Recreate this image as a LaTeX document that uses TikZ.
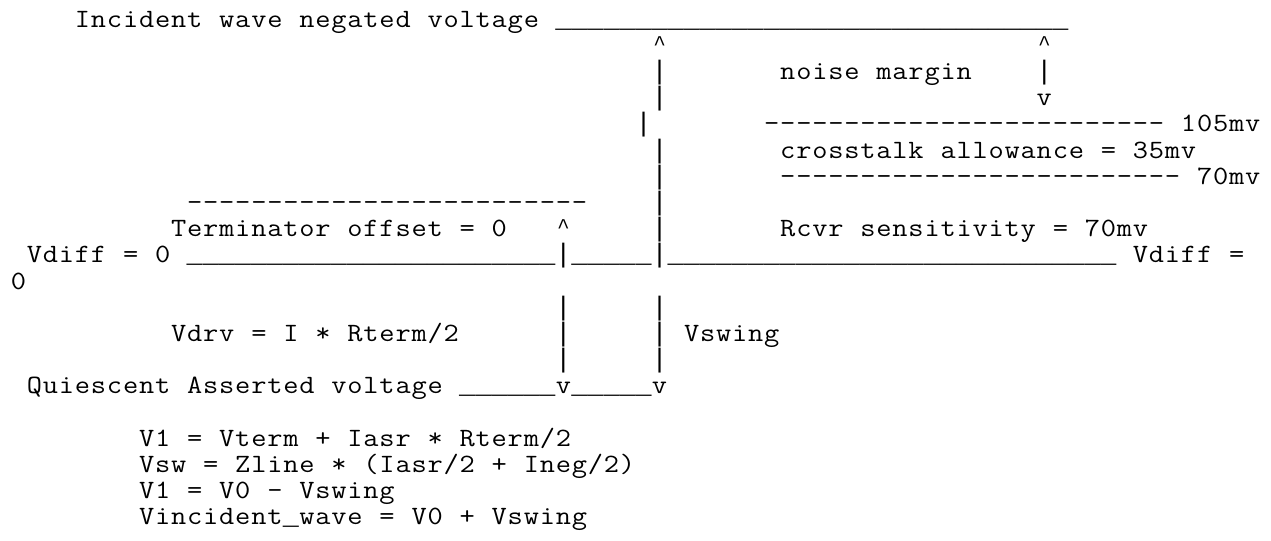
\documentclass[tikz,border=0pt]{standalone}
\usepackage{fontspec}
\usepackage{graphicx}
\usetikzlibrary{positioning}
\newfontfamily\glyphfont{Liberation Mono}

\newlength{\charw}
\setlength{\charw}{8.015pt}
\ExplSyntaxOn
\cs_new:Npn \repchar #1#2 {\prg_replicate:nn{#1}{#2}}
\str_new:N \l_mono_line_str
\cs_new_protected:Npn \monoline #1
  {
    \str_set:Nx \l_mono_line_str {#1}
    \str_map_inline:Nn \l_mono_line_str
      {
        \str_case:nnF {##1}
          {
            {_} { \makebox[\charw][c]{\glyphfont\fontsize{13.36pt}{13pt}\selectfont ##1} }
            {|} { \makebox[\charw][c]{\glyphfont\fontsize{13.36pt}{13pt}\selectfont ##1} }
            {^} { \makebox[\charw][c]{\raisebox{1.6pt}{\glyphfont\fontsize{10.5pt}{13pt}\selectfont ##1}} }
          }
          { \makebox[\charw][c]{\scalebox{1.12}[1]{##1}} }
      }
  }
\ExplSyntaxOff

\begin{document}
\begin{tikzpicture}[x=8.015pt,y=-13.1pt,
    ascii/.style={font=\ttfamily\fontsize{13.2pt}{13pt}\selectfont, inner sep=0pt, anchor=base west}]
  \useasboundingbox (0,0) rectangle (79.289,20.611);
  \begin{scope}[shift={(0.624,1.0305)}]
  % negated level and noise margin
  \node[ascii] (negline) at (4,0) {\monoline{Incident wave negated voltage \repchar{32}{_}}};
  \node[ascii] (swtop) at (40,1) {\monoline{^}};
  \node[ascii] (nmtop) at (64,1) {\monoline{^}};
  \node[ascii] (nmtxt) at (48,2) {\monoline{noise margin}};
  \node[ascii] (nmbar) at (64,2) {\monoline{|}};
  \node[ascii] (nmbot) at (64,3) {\monoline{v}};
  \foreach \r in {2,3,5,6,7,8}
    \node[ascii] (swbar\r) at (40,\r) {\monoline{|}};
  \node[ascii] (swbar4) at (39,4) {\monoline{|}};
  % receiver levels
  \node[ascii] (lvlhi) at (47,4) {\monoline{\repchar{25}{-} 105mv}};
  \node[ascii] (xtalk) at (48,5) {\monoline{crosstalk allowance = 35mv}};
  \node[ascii] (lvllo) at (48,6) {\monoline{\repchar{25}{-} 70mv}};
  \node[ascii] (rcvr) at (48,8) {\monoline{Rcvr sensitivity = 70mv}};
  % terminator offset
  \node[ascii] (offline) at (11,7) {\monoline{\repchar{25}{-}}};
  \node[ascii] (offtxt) at (10,8) {\monoline{Terminator offset = 0}};
  \node[ascii] (drvtop) at (34,8) {\monoline{^}};
  % zero level
  \node[ascii] (zero) at (1,9) {\monoline{Vdiff = 0 \repchar{23}{_}|\repchar{5}{_}|\repchar{28}{_} Vdiff =}};
  \node[ascii] (zerowrap) at (0,10) {\monoline{0}};
  % asserted level
  \foreach \r in {11,12,13} {
    \node[ascii] (drvbar\r) at (34,\r) {\monoline{|}};
    \node[ascii] (swlo\r) at (40,\r) {\monoline{|}};
  }
  \node[ascii] (vdrv) at (10,12) {\monoline{Vdrv = I * Rterm/2}};
  \node[ascii] (vswing) at (42,12) {\monoline{Vswing}};
  \node[ascii] (asrt) at (1,14) {\monoline{Quiescent Asserted voltage \repchar{6}{_}v\repchar{5}{_}v}};
  % equations
  \node[ascii] (eqa) at (8,16) {\monoline{V1 = Vterm + Iasr * Rterm/2}};
  \node[ascii] (eqb) at (8,17) {\monoline{Vsw = Zline * (Iasr/2 + Ineg/2)}};
  \node[ascii] (eqc) at (8,18) {\monoline{V1 = V0 - Vswing}};
  \node[ascii] (eqd) at (8,19) {\monoline{Vincident_wave = V0 + Vswing}};
  \end{scope}
\end{tikzpicture}
\end{document}
